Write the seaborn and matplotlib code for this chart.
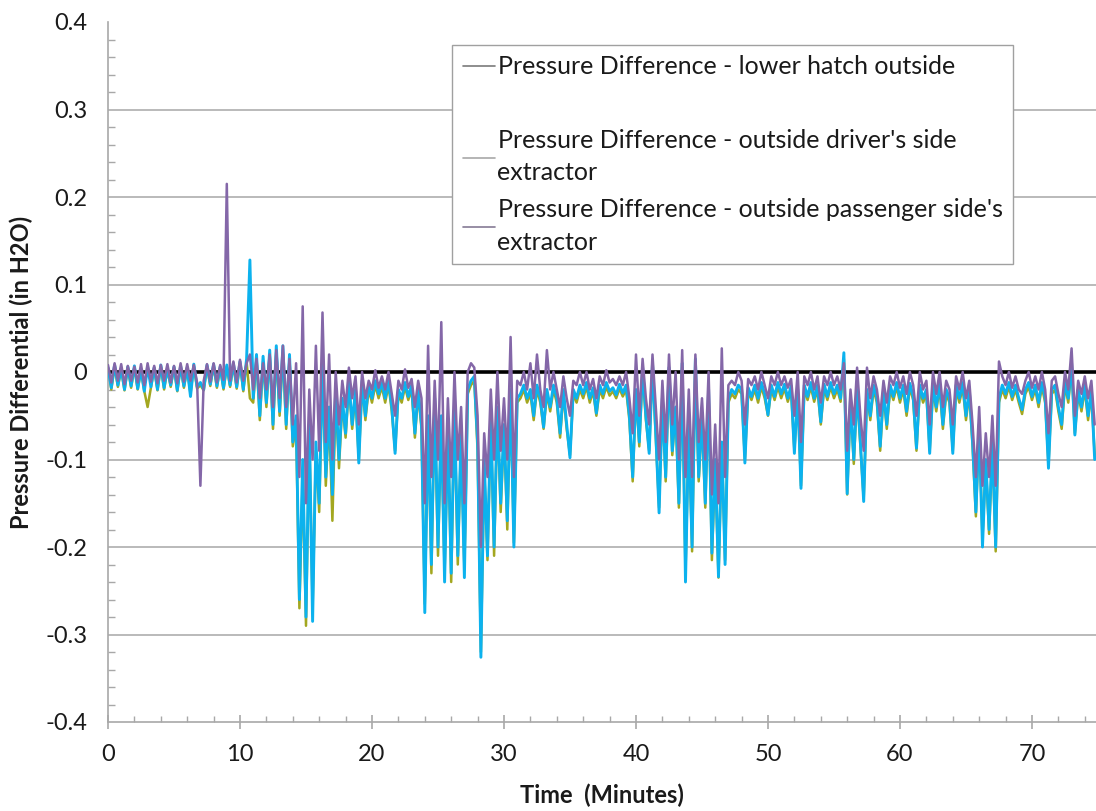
import numpy as np
import pandas as pd
import matplotlib
matplotlib.use("Agg")
import matplotlib.pyplot as plt
from matplotlib.lines import Line2D
from matplotlib.ticker import MultipleLocator, FuncFormatter
import seaborn as sns

SAMPLE_STEP_MIN = 0.25

lower_hatch = [  # olive series
    0.004, -0.02, 0.006, -0.017, 0.003, -0.021, 0.005, -0.018,
    0.005, -0.02, 0.002, -0.022, -0.04, -0.018, 0.004, -0.021,
    0.006, -0.02, 0.003, -0.017, 0.005, -0.022, 0.006, -0.018,
    0.004, -0.025, 0.007, -0.019, -0.015, -0.021, 0.006, -0.016,
    0.007, -0.018, 0.005, -0.02, 0.006, -0.017, 0.008, -0.019,
    0.01, -0.022, 0.012, -0.03, -0.035, 0.015, -0.055, 0.012,
    -0.04, 0.02, -0.065, 0.022, -0.05, 0.02, -0.065, 0.015,
    -0.085, -0.06, -0.27, -0.12, -0.29, -0.07, -0.27, -0.09,
    -0.16, 0.005, -0.13, -0.05, -0.17, -0.03, -0.11, -0.035,
    -0.075, -0.015, -0.065, -0.025, -0.1, -0.015, -0.055, -0.02,
    -0.035, -0.015, -0.03, -0.017, -0.035, -0.015, -0.045, -0.09,
    -0.025, -0.035, -0.017, -0.032, -0.02, -0.075, -0.025, -0.065,
    -0.265, -0.06, -0.23, -0.035, -0.21, -0.055, -0.23, -0.065,
    -0.24, -0.045, -0.22, -0.075, -0.225, -0.025, -0.015, -0.01,
    -0.09, -0.32, -0.11, -0.215, -0.055, -0.21, -0.045, -0.16,
    -0.065, -0.18, -0.025, -0.195, -0.035, -0.03, -0.02, -0.035,
    -0.025, -0.055, -0.02, -0.035, -0.065, -0.025, -0.045, -0.02,
    -0.035, -0.075, -0.025, -0.065, -0.095, -0.025, -0.035, -0.02,
    -0.03, -0.017, -0.035, -0.022, -0.05, -0.02, -0.03, -0.017,
    -0.027, -0.022, -0.03, -0.019, -0.028, -0.02, -0.055, -0.125,
    -0.025, -0.085, 0.0, -0.055, -0.09, 0.005, -0.075, -0.155,
    -0.035, -0.125, 0.0, -0.095, -0.045, -0.155, 0.005, -0.23,
    -0.065, -0.205, 0.01, -0.125, -0.055, -0.155, -0.025, -0.215,
    -0.105, -0.235, -0.085, -0.215, -0.035, -0.025, -0.03, -0.02,
    -0.025, -0.1, -0.022, -0.032, -0.02, -0.035, -0.017, -0.03,
    -0.05, -0.02, -0.032, -0.017, -0.03, -0.019, -0.034, -0.021,
    -0.09, -0.025, -0.13, -0.02, -0.032, -0.017, -0.034, -0.02,
    -0.06, -0.019, -0.032, -0.017, -0.03, -0.02, -0.034, 0.015,
    -0.14, -0.035, -0.105, -0.025, -0.085, -0.145, -0.025, -0.055,
    -0.02, -0.035, -0.09, -0.025, -0.065, -0.02, -0.032, -0.017,
    -0.035, -0.02, -0.05, -0.018, -0.032, -0.09, -0.02, -0.035,
    -0.025, -0.09, -0.02, -0.045, -0.017, -0.065, -0.025, -0.035,
    -0.09, -0.02, -0.035, -0.017, -0.055, -0.025, -0.085, -0.165,
    -0.065, -0.19, -0.105, -0.185, -0.085, -0.205, -0.035, -0.02,
    -0.03, -0.017, -0.032, -0.02, -0.035, -0.048, -0.025, -0.017,
    -0.032, -0.02, -0.04, -0.017, -0.035, -0.105, -0.025, -0.02,
    -0.045, -0.065, -0.015, -0.035, 0.005, -0.07, -0.025, -0.045,
    -0.02, -0.055, -0.025, -0.095,
]

driver_side = [  # cyan series
    0.005, -0.018, 0.008, -0.015, 0.004, -0.02, 0.006, -0.016,
    0.007, -0.019, 0.003, -0.022, 0.006, -0.017, 0.005, -0.02,
    0.008, -0.018, 0.004, -0.015, 0.006, -0.021, 0.007, -0.016,
    0.005, -0.028, 0.009, -0.017, -0.012, -0.02, 0.008, -0.014,
    0.009, -0.016, 0.006, -0.018, 0.008, -0.015, 0.01, -0.017,
    0.012, -0.02, 0.015, 0.128, -0.03, 0.02, -0.05, 0.018,
    -0.035, 0.025, -0.06, 0.03, -0.045, 0.03, -0.06, 0.02,
    -0.08, -0.05, -0.26, -0.1, -0.28, -0.06, -0.285, -0.08,
    -0.15, 0.01, -0.12, -0.04, -0.14, -0.02, -0.1, -0.03,
    -0.07, -0.01, -0.06, -0.02, -0.104, -0.01, -0.05, -0.015,
    -0.03, -0.01, -0.025, -0.012, -0.03, -0.01, -0.04, -0.093,
    -0.02, -0.03, -0.012, -0.028, -0.015, -0.07, -0.02, -0.06,
    -0.275, -0.05, -0.22, -0.03, -0.2, -0.05, -0.24, -0.06,
    -0.23, -0.04, -0.21, -0.07, -0.235, -0.02, -0.01, -0.005,
    -0.08, -0.326, -0.1, -0.21, -0.05, -0.2, -0.04, -0.15,
    -0.06, -0.17, -0.02, -0.2, -0.03, -0.025, -0.015, -0.03,
    -0.02, -0.05, -0.015, -0.03, -0.063, -0.02, -0.04, -0.015,
    -0.03, -0.07, -0.02, -0.06, -0.098, -0.02, -0.03, -0.015,
    -0.025, -0.012, -0.03, -0.018, -0.047, -0.015, -0.025, -0.012,
    -0.022, -0.018, -0.026, -0.014, -0.024, -0.015, -0.05, -0.12,
    -0.02, -0.08, 0.005, -0.05, -0.093, 0.01, -0.07, -0.161,
    -0.03, -0.12, 0.005, -0.09, -0.04, -0.15, 0.01, -0.24,
    -0.06, -0.2, 0.015, -0.12, -0.05, -0.15, -0.02, -0.207,
    -0.1, -0.234, -0.08, -0.22, -0.03, -0.02, -0.025, -0.015,
    -0.02, -0.104, -0.018, -0.028, -0.015, -0.03, -0.012, -0.025,
    -0.049, -0.015, -0.028, -0.012, -0.025, -0.014, -0.03, -0.016,
    -0.093, -0.02, -0.133, -0.015, -0.028, -0.012, -0.03, -0.015,
    -0.057, -0.014, -0.028, -0.012, -0.025, -0.015, -0.03, 0.022,
    -0.139, -0.03, -0.1, -0.02, -0.08, -0.148, -0.02, -0.05,
    -0.015, -0.03, -0.085, -0.02, -0.06, -0.015, -0.028, -0.012,
    -0.03, -0.015, -0.045, -0.013, -0.028, -0.087, -0.015, -0.03,
    -0.02, -0.093, -0.015, -0.04, -0.012, -0.06, -0.02, -0.03,
    -0.093, -0.015, -0.03, -0.012, -0.05, -0.02, -0.08, -0.16,
    -0.06, -0.2, -0.1, -0.18, -0.08, -0.2, -0.03, -0.015,
    -0.025, -0.012, -0.028, -0.015, -0.03, -0.043, -0.02, -0.012,
    -0.028, -0.015, -0.035, -0.012, -0.03, -0.11, -0.02, -0.015,
    -0.04, -0.06, -0.01, -0.03, 0.01, -0.072, -0.02, -0.04,
    -0.015, -0.05, -0.02, -0.1,
]

passenger_side = [  # purple series
    0.008, -0.012, 0.01, -0.01, 0.009, -0.014, 0.007, -0.01,
    0.006, -0.012, 0.009, -0.015, 0.01, -0.011, 0.007, -0.013,
    0.008, -0.01, 0.009, -0.012, 0.007, -0.013, 0.01, -0.011,
    0.009, -0.01, 0.008, -0.012, -0.13, -0.01, 0.009, -0.011,
    0.01, -0.012, 0.008, -0.009, 0.215, -0.01, 0.012, -0.012,
    0.014, -0.01, 0.01, 0.02, -0.02, 0.015, -0.03, 0.01,
    -0.02, 0.02, -0.04, 0.025, -0.03, 0.03, -0.04, 0.015,
    -0.06, 0.01, -0.12, 0.075, -0.15, -0.02, -0.1, 0.03,
    -0.09, 0.068, -0.08, 0.02, -0.1, 0.0, -0.06, -0.01,
    -0.04, 0.005, -0.03, -0.005, -0.06, 0.0, -0.03, -0.01,
    -0.02, 0.002, -0.018, -0.005, -0.02, 0.0, -0.025, -0.05,
    -0.01, -0.02, 0.003, -0.018, -0.008, -0.04, -0.01, -0.03,
    -0.15, 0.03, -0.12, -0.01, -0.1, 0.057, -0.15, -0.03,
    -0.12, 0.0, -0.1, -0.04, -0.15, 0.0, 0.01, 0.005,
    -0.05, -0.2, -0.07, -0.12, -0.02, -0.1, 0.0, -0.09,
    -0.03, -0.1, 0.04, -0.12, -0.01, -0.015, 0.0, -0.02,
    0.01, -0.03, 0.02, -0.02, -0.04, 0.025, -0.02, 0.0,
    -0.02, -0.04, -0.005, -0.03, -0.05, -0.01, -0.015, 0.0,
    -0.015, 0.0, -0.02, -0.008, -0.03, -0.005, -0.015, 0.002,
    -0.012, -0.008, -0.015, -0.005, -0.015, 0.0, -0.03, -0.07,
    0.02, -0.05, 0.015, -0.03, -0.06, 0.02, -0.04, -0.1,
    -0.01, -0.08, 0.02, -0.06, 0.0, -0.1, 0.025, -0.12,
    -0.02, -0.12, 0.02, -0.08, -0.03, -0.1, 0.0, -0.14,
    -0.06, -0.15, 0.027, -0.12, -0.015, -0.01, -0.015, 0.0,
    -0.01, -0.06, -0.008, -0.015, -0.005, -0.02, 0.0, -0.015,
    -0.03, -0.005, -0.015, 0.0, -0.015, -0.005, -0.018, -0.008,
    -0.05, 0.0, -0.08, -0.005, -0.015, 0.0, -0.02, -0.005,
    -0.035, -0.005, -0.015, 0.0, -0.015, -0.005, -0.02, 0.01,
    -0.09, -0.02, -0.06, 0.005, -0.05, -0.09, 0.005, -0.03,
    -0.005, -0.02, -0.05, -0.01, -0.035, -0.005, -0.015, 0.0,
    -0.018, -0.005, -0.025, 0.0, -0.015, -0.05, 0.0, -0.02,
    -0.01, -0.06, 0.0, -0.025, 0.0, -0.04, -0.01, -0.02,
    -0.06, -0.005, -0.02, 0.0, -0.03, -0.01, -0.06, -0.12,
    -0.04, -0.13, -0.07, -0.12, -0.05, -0.13, 0.012, -0.005,
    -0.015, 0.0, -0.018, -0.005, -0.02, -0.025, -0.01, 0.0,
    -0.018, -0.005, -0.02, 0.0, -0.02, -0.07, -0.01, -0.005,
    -0.025, -0.04, 0.0, -0.02, 0.027, -0.05, -0.01, -0.025,
    -0.005, -0.03, -0.01, -0.06,
]

series_labels = [
    "Pressure Difference - lower hatch outside",
    "Pressure Difference - outside driver's side\nextractor",
    "Pressure Difference - outside passenger side's\nextractor",
]
y_ticks = [-0.4, -0.3, -0.2, -0.1, 0.0, 0.1, 0.2, 0.3, 0.4]
x_ticks = [0, 10, 20, 30, 40, 50, 60, 70]

# ---------------- styling ----------------
sns.set_theme(style="white")
plt.rcParams["font.family"] = ["Lato", "DejaVu Sans"]

FS = 17
LEG_FS = 18
COL_OLIVE = "#A3A720"
COL_CYAN = "#0CB2EE"
COL_PURPLE = "#8467A8"
GRID = "#b4b4b4"
AXIS = "#a8a8a8"
TXT = "#1a1a1a"

time_min = np.arange(len(driver_side)) * SAMPLE_STEP_MIN
df = pd.DataFrame({
    "t": time_min,
    "lower": lower_hatch,
    "driver": driver_side,
    "passenger": passenger_side,
})

fig = plt.figure(figsize=(10.96, 8.11), dpi=100)
ax = fig.add_axes([108 / 1096, 1 - 722 / 811, 1 - 108 / 1096, (722 - 22) / 811])

# horizontal gridlines
for yv in y_ticks[1:-1]:
    if yv != 0:
        ax.axhline(yv, color=GRID, lw=1.3, zorder=0)
ax.axhline(0, color="black", lw=2.6, zorder=1)

sns.lineplot(data=df, x="t", y="lower", ax=ax, color=COL_OLIVE, lw=1.8, zorder=2, legend=False)
sns.lineplot(data=df, x="t", y="driver", ax=ax, color=COL_CYAN, lw=2.1, zorder=3, legend=False)
sns.lineplot(data=df, x="t", y="passenger", ax=ax, color=COL_PURPLE, lw=1.8, zorder=4, legend=False)

ax.set_xlim(0, 74.85)
ax.set_ylim(-0.4, 0.4)
ax.set_yticks(y_ticks)
ax.set_xticks(x_ticks)
ax.yaxis.set_minor_locator(MultipleLocator(0.02))
ax.xaxis.set_minor_locator(MultipleLocator(2))
ax.yaxis.set_major_formatter(FuncFormatter(lambda v, p: "0" if abs(v) < 1e-9 else f"{v:g}"))

for s in ["top", "right"]:
    ax.spines[s].set_visible(False)
for s in ["left", "bottom"]:
    ax.spines[s].set_color(AXIS)
    ax.spines[s].set_linewidth(1.2)

ax.tick_params(axis="y", which="major", direction="out", length=8, width=1.2, color=AXIS,
               labelsize=FS, pad=7, labelcolor=TXT)
ax.tick_params(axis="y", which="minor", direction="in", length=5, width=1, color=AXIS, left=True)
ax.tick_params(axis="x", which="major", direction="inout", length=10, width=1.2, color=AXIS,
               labelsize=FS, pad=11, labelcolor=TXT, bottom=True)
ax.tick_params(axis="x", which="minor", direction="in", length=4, width=1, color=AXIS, bottom=True)

ax.set_xlabel("Time  (Minutes)", fontsize=FS, fontweight="bold", color=TXT)
ax.set_ylabel("Pressure Differential (in H2O)", fontsize=FS, fontweight="bold", color=TXT)
ax.xaxis.set_label_coords((602 - 108) / (1096 - 108), (722 - 784) / 700)
ax.yaxis.set_label_coords((33 - 108) / (1096 - 108), 0.5)

handles = [
    Line2D([], [], color="#7a7a7a", lw=1.2),
    Line2D([], [], color="none", lw=0),
    Line2D([], [], color="#a8a8a8", lw=1.2),
    Line2D([], [], color="#857a95", lw=1.2),
]
labels = [series_labels[0], " ", series_labels[1], series_labels[2]]
leg = fig.legend(handles, labels, loc="upper left", bbox_to_anchor=(452 / 1096, 1 - 45 / 811),
                 frameon=True, fancybox=False, shadow=False, fontsize=LEG_FS,
                 handlelength=1.3, handletextpad=0.1, labelspacing=0.55,
                 borderpad=0.42, borderaxespad=0)
leg.get_frame().set_edgecolor("#a0a0a0")
leg.get_frame().set_linewidth(1.0)
leg.get_frame().set_facecolor("white")
leg.get_frame().set_alpha(1)
for txt in leg.get_texts():
    txt.set_color(TXT)
    txt.set_linespacing(1.5)

fig.savefig("out.png", dpi=100)
